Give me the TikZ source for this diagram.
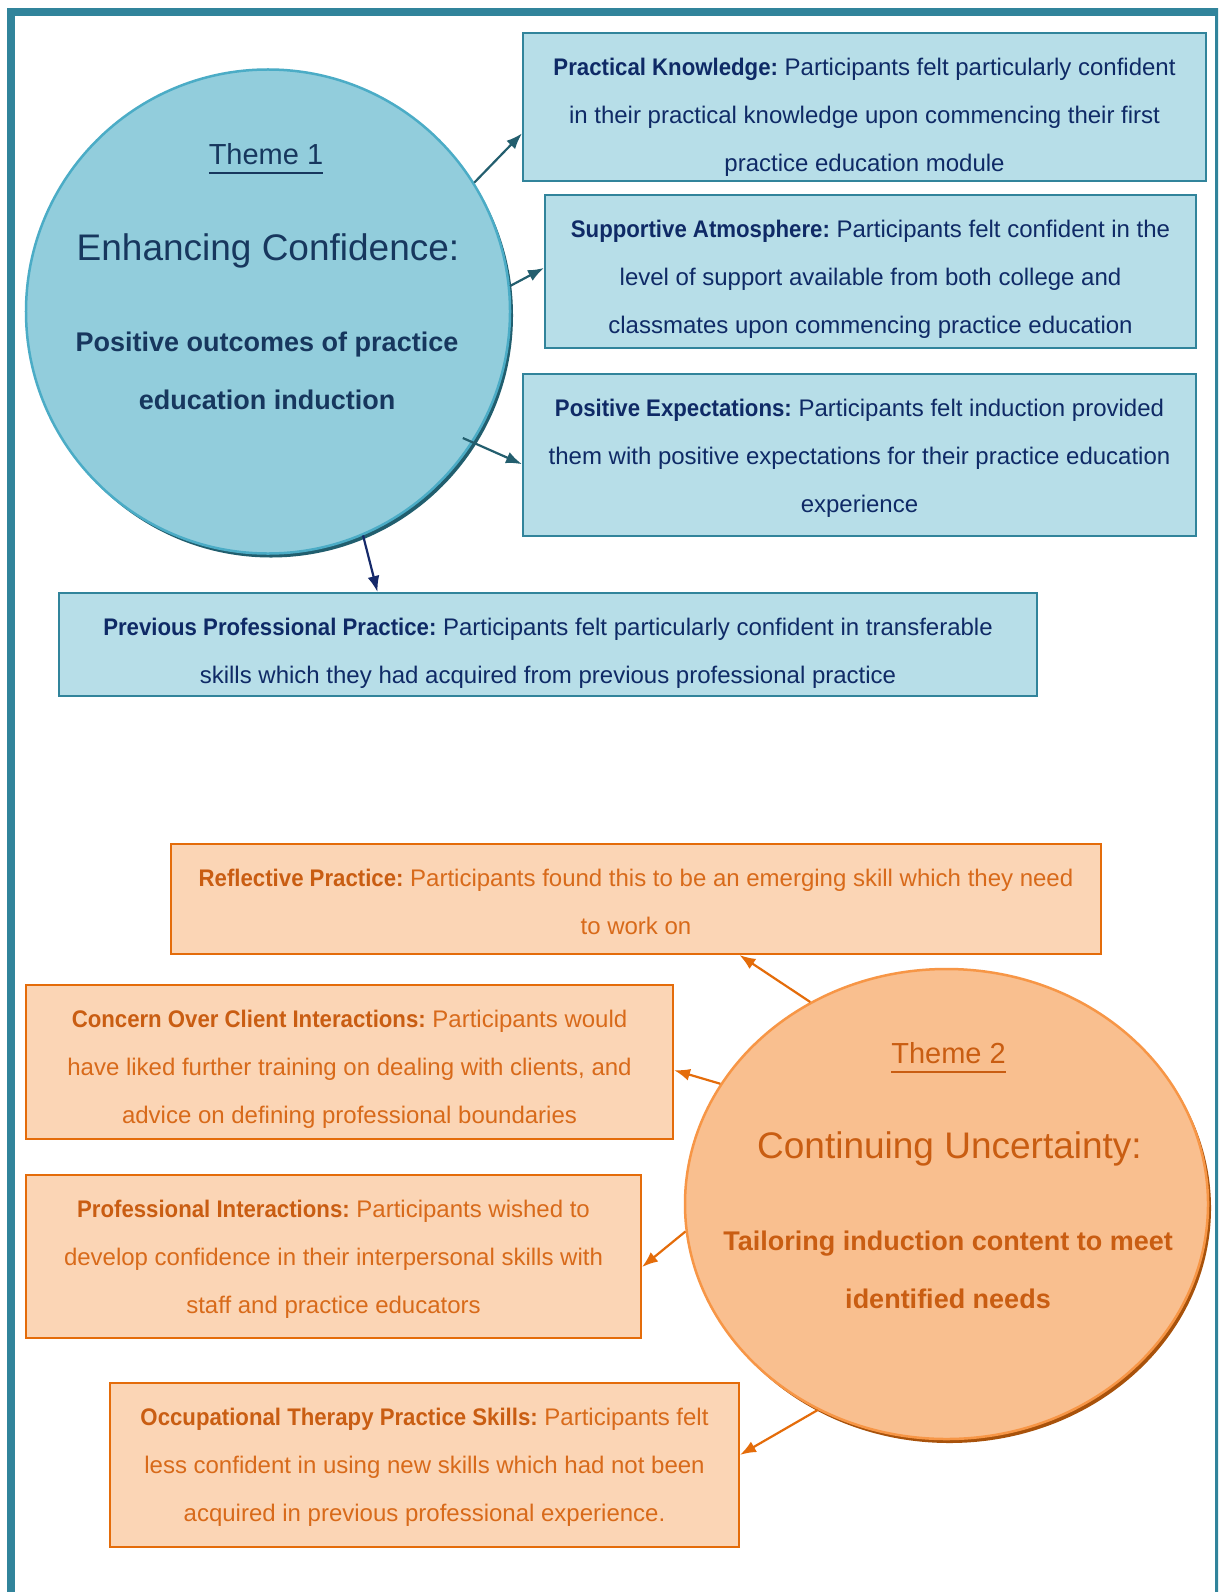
\documentclass[tikz,border=0pt]{standalone}
\usepackage{graphicx}
\usepackage{fontspec}
\setmainfont{Liberation Sans}
\usetikzlibrary{shapes.geometric,arrows.meta,calc,shadows}
\frenchspacing

% palette
\definecolor{frameteal}{HTML}{31849B}
\definecolor{bluefill}{HTML}{92CDDC}
\definecolor{blueline}{HTML}{4BACC6}
\definecolor{blueshadow}{HTML}{215E6E}
\definecolor{blueboxfill}{HTML}{B7DEE8}
\definecolor{blueboxline}{HTML}{31849B}
\definecolor{bluetitle}{HTML}{17375E}
\definecolor{bluebody}{HTML}{0F2A66}
\definecolor{tealarrowc}{HTML}{235E6E}
\definecolor{navyarrowc}{HTML}{15296A}
\definecolor{orangefill}{HTML}{F9BF8F}
\definecolor{orangeline}{HTML}{F79646}
\definecolor{orangeshadow}{HTML}{A8520B}
\definecolor{orangeboxfill}{HTML}{FBD5B5}
\definecolor{orangeboxline}{HTML}{E46C0A}
\definecolor{orangetitle}{HTML}{C95D12}
\definecolor{orangebody}{HTML}{D86A1A}
\definecolor{orangearrowc}{HTML}{E46C0A}

% underlined theme label
\newcommand\undertext[1]{\setbox0=\hbox{#1}\rlap{\rule[-10bp]{\wd0}{2bp}}\box0}
% fixed distance from a box top to its first baseline
\newcommand\firstline{\rule{0pt}{43bp}}
% bold lead-in of each finding, set slightly narrow
\newcommand\leadin[1]{\scalebox{0.925}[1]{\textbf{#1}}}

\tikzset{
  bluecircle/.style={circle, minimum size=484bp, inner sep=0pt, line width=2.5bp,
    draw=blueline, fill=bluefill,
    drop shadow={shadow xshift=3bp, shadow yshift=-4bp, fill=blueshadow, opacity=1}},
  orangeellipse/.style={ellipse, minimum width=523bp, minimum height=470bp, inner sep=0pt,
    line width=2.5bp, draw=orangeline, fill=orangefill,
    drop shadow={shadow xshift=3bp, shadow yshift=-4bp, fill=orangeshadow, opacity=1}},
  bluebox/.style={rectangle, inner sep=0pt, line width=2bp, draw=blueboxline, fill=blueboxfill},
  orangebox/.style={rectangle, inner sep=0pt, line width=2bp, draw=orangeboxline, fill=orangeboxfill},
  bodytext/.style={anchor=north, inner sep=0pt, align=center,
    font=\fontsize{24bp}{48bp}\selectfont},
  bluetext/.style={bodytext, text=bluebody},
  orangetext/.style={bodytext, text=orangebody},
  themelabel/.style={anchor=base, inner sep=0pt, font=\fontsize{29bp}{34bp}\selectfont},
  themetitle/.style={anchor=base, inner sep=0pt, font=\fontsize{37bp}{44bp}\selectfont},
  themesub/.style={anchor=base, inner sep=0pt, font=\fontsize{27bp}{32bp}\selectfont\bfseries},
  link/.style={line width=2.2bp, -{Latex[length=16bp,width=12bp]}},
  tealarrow/.style={link, draw=tealarrowc},
  navyarrow/.style={link, draw=navyarrowc},
  orangearrow/.style={link, draw=orangearrowc},
}

\begin{document}
\begin{tikzpicture}[x=1bp,y=-1bp]
\useasboundingbox (0,0) rectangle (1218,1592);
\clip (0,0) rectangle (1218,1592);
\fill[white] (0,0) rectangle (1218,1592);

% outer frame
\draw[frameteal, line width=8bp] (11,12) rectangle (1219,1610);

% ---------- Theme 1 ----------
\node[bluecircle] (c1) at (268,311.5) {};
\node[themelabel, text=bluetitle] (c1label) at (266,164) {\undertext{Theme 1}};
\node[themetitle, text=bluetitle] (c1title) at (268,260) {Enhancing Confidence:};
\node[themesub, text=bluetitle] (c1suba) at (267,351) {Positive outcomes of practice};
\node[themesub, text=bluetitle] (c1subb) at (267,409) {education induction};

\node[bluebox, minimum width=683bp, minimum height=148bp] (pk) at (864.5,107) {};
\node[bluetext] (pktext) at (pk.north) {\firstline\leadin{Practical Knowledge:} Participants felt particularly confident\\
  in their practical knowledge upon commencing their first\\practice education module};

\node[bluebox, minimum width=651bp, minimum height=153bp] (sa) at (870.5,271.5) {};
\node[bluetext] (satext) at (sa.north) {\firstline\leadin{Supportive Atmosphere:} Participants felt confident in the\\
  level of support available from both college and\\classmates upon commencing practice education};

\node[bluebox, minimum width=673bp, minimum height=162bp] (pe) at (859.5,455) {};
\node[bluetext] (petext) at (pe.north) {\firstline\leadin{Positive Expectations:} Participants felt induction provided\\
  them with positive expectations for their practice education\\experience};

\node[bluebox, minimum width=978bp, minimum height=103bp] (ppp) at (548,644.5) {};
\node[bluetext] (ppptext) at (ppp.north) {\firstline\leadin{Previous Professional Practice:} Participants felt particularly confident in transferable\\
  skills which they had acquired from previous professional practice};

\draw[tealarrow] (c1.32) -- ($(pk.north west)!0.676!(pk.south west)$);
\draw[tealarrow] (c1.6) -- ($(sa.north west)!0.477!(sa.south west)$);
\draw[tealarrow] ($(c1.center)!0.955!(c1.327)$) -- ($(pe.north west)!0.556!(pe.south west)$);
\draw[navyarrow] (c1.293) -- ($(ppp.north west)!0.326!(ppp.north east)$);

% ---------- Theme 2 ----------
\node[orangeellipse] (c2) at (946.5,1204) {};
\node[themelabel, text=orangetitle] (c2label) at (948.5,1063) {\undertext{Theme 2}};
\node[themetitle, text=orangetitle] (c2title) at (949.5,1158) {Continuing Uncertainty:};
\node[themesub, text=orangetitle] (c2suba) at (948,1250) {Tailoring induction content to meet};
\node[themesub, text=orangetitle] (c2subb) at (948,1308) {identified needs};

\node[orangebox, minimum width=930bp, minimum height=110bp] (rp) at (636,899) {};
\node[orangetext] (rptext) at (rp.north) {\firstline\leadin{\color{orangetitle}Reflective Practice:} Participants found this to be an emerging skill which they need\\
  to work on};

\node[orangebox, minimum width=647bp, minimum height=154bp] (coci) at (349.5,1062) {};
\node[orangetext] (cocitext) at (coci.north) {\firstline\leadin{\color{orangetitle}Concern Over Client Interactions:} Participants would\\
  have liked further training on dealing with clients, and\\advice on defining professional boundaries};

\node[orangebox, minimum width=615bp, minimum height=163bp] (pi) at (333.5,1256.5) {};
\node[orangetext] (pitext) at (pi.north) {\firstline\leadin{\color{orangetitle}Professional Interactions:} Participants wished to\\
  develop confidence in their interpersonal skills with\\staff and practice educators};

\node[orangebox, minimum width=629bp, minimum height=164bp] (otps) at (424.5,1465) {};
\node[orangetext] (otpstext) at (otps.north) {\firstline\leadin{\color{orangetitle}Occupational Therapy Practice Skills:} Participants felt\\
  less confident in using new skills which had not been\\acquired in previous professional experience.};

\draw[orangearrow] (c2.124) -- ($(rp.south west)!0.611!(rp.south east)$);
\draw[orangearrow] (c2.152) -- ($(coci.north east)!0.552!(coci.south east)$);
\draw[orangearrow] (c2.186) -- ($(pi.north east)!0.564!(pi.south east)$);
\draw[orangearrow] (c2.238) -- ($(otps.north east)!0.439!(otps.south east)$);
\end{tikzpicture}
\end{document}
